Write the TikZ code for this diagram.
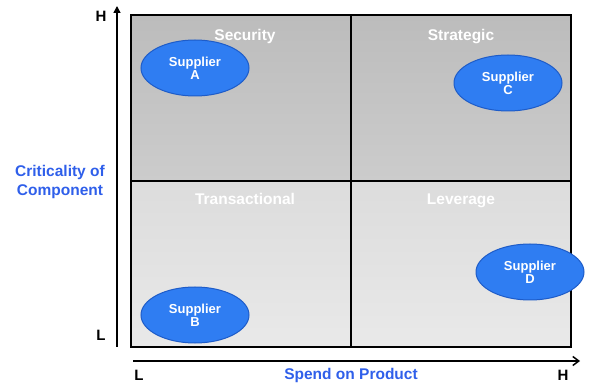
\documentclass[tikz,border=0pt]{standalone}
\usepackage{fontspec}
\setmainfont{Liberation Sans}
\usetikzlibrary{arrows.meta,positioning,shapes.geometric,fit}
\definecolor{quadDarkTop}{HTML}{BCBCBC}
\definecolor{quadDarkBot}{HTML}{CCCCCC}
\definecolor{quadLightTop}{HTML}{DCDCDC}
\definecolor{quadLightBot}{HTML}{E9E9E9}
\definecolor{supplierFill}{HTML}{2F7DF2}
\definecolor{supplierEdge}{HTML}{1E5CC8}
\definecolor{axisBlue}{HTML}{2F5FEA}

\begin{document}
\begin{tikzpicture}[x=1pt,y=-1pt,every node/.style={font=\bfseries},node distance=0pt]
      \tikzstyle{quad}=[draw=black,line width=1.5pt,minimum width=220pt,
                        minimum height=166pt,inner sep=0pt,outer sep=0pt]
      \tikzstyle{qlabel}=[text=white,anchor=base,font=\fontsize{15.5}{17}\selectfont\bfseries]
      \tikzstyle{supplier}=[ellipse,draw=supplierEdge,line width=1pt,fill=supplierFill,
                            minimum width=108pt,minimum height=56pt,inner sep=0pt,align=center,
                            text=white,font=\fontsize{13}{11}\selectfont\bfseries]
      \tikzstyle{tick}=[font=\fontsize{15}{17}\selectfont\bfseries]
      \tikzstyle{axislabel}=[text=axisBlue,align=center,font=\fontsize{15.5}{19}\selectfont\bfseries]

      \useasboundingbox (0,0) rectangle (590,385);

      % the four quadrants
      \node[quad,top color=quadDarkTop,bottom color=quadDarkBot] (sec) at (241,98) {};
      \node[quad,top color=quadDarkTop,bottom color=quadDarkBot,right=of sec] (strat) {};
      \node[quad,top color=quadLightTop,bottom color=quadLightBot,below=of sec] (trans) {};
      \node[quad,top color=quadLightTop,bottom color=quadLightBot,below=of strat] (lev) {};
      \node[draw=black,line width=2pt,inner sep=0pt,fit=(sec)(lev)] (grid) {};

      \node[qlabel] (secL) at ([xshift=4pt,yshift=-26pt]sec.north) {Security};
      \node[qlabel] (stratL) at ([yshift=-26pt]strat.north) {Strategic};
      \node[qlabel] (transL) at ([xshift=4pt,yshift=-24pt]trans.north) {Transactional};
      \node[qlabel] (levL) at ([yshift=-24pt]lev.north) {Leverage};

      \node[supplier] (supA) at (195,68) {Supplier\\A};
      \node[supplier] (supC) at (508,83) {Supplier\\C};
      \node[supplier] (supB) at (195,315) {Supplier\\B};
      \node[supplier] (supD) at (530,272) {Supplier\\D};

      % axes
      \coordinate (yorg) at (117,347);
      \coordinate (ytop) at (117,6);
      \coordinate (xorg) at (133,361);
      \coordinate (xend) at (580,361);
      \draw[line width=1.5pt,-{Triangle[length=7pt,width=7pt]}] (yorg)--(ytop);
      \draw[line width=1.5pt,-{Straight Barb[length=6pt,width=9pt]}] (xorg)--(xend);

      \node[tick] (hiY) at (101,16) {H};
      \node[tick] (loY) at (101,335) {L};
      \node[tick] (loX) at (139,375) {L};
      \node[tick] (hiX) at (563,375) {H};

      \node[axislabel] (critL) at (60,182) {Criticality of\\Component};
      \node[axislabel] (spendL) at (351,375) {Spend on Product};
    \end{tikzpicture}
\end{document}
